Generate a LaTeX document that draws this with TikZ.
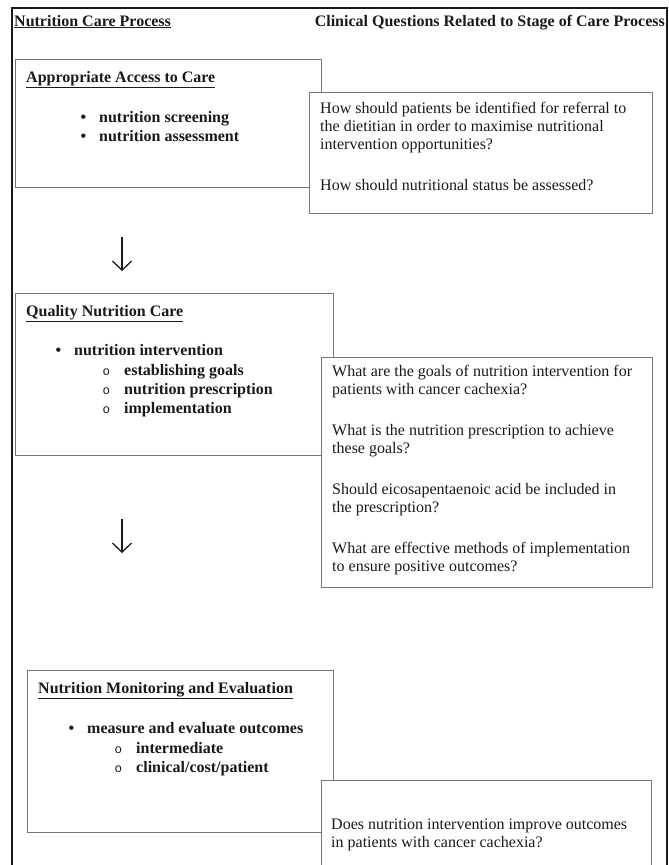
\documentclass[tikz,border=0pt]{standalone}
\usepackage{fontspec}
\setmainfont{Liberation Serif}
\newfontfamily\ringfont{Liberation Mono}
\usepackage{xcolor}
\usepackage{tikz}
\usetikzlibrary{arrows.meta}

\definecolor{boxgray}{HTML}{777777}
\definecolor{inkblack}{HTML}{1A1A1A}

\newcommand{\mainbul}{\llap{\textbullet\hspace{13pt}}}
\newcommand{\subring}{\llap{{\mdseries\fontsize{12.5}{12}\ringfont o}\hspace{14pt}}}
\newcommand{\qgap}{\\[23pt]}

\tikzset{
	stagebox/.style={draw=boxgray, line width=1.2pt, fill=white, anchor=north west, inner sep=0pt},
	linetext/.style={anchor=base west, inner sep=0pt, text=inkblack, font=\fontsize{16}{18}\selectfont},
	boldtext/.style={linetext, font=\fontsize{16}{19}\selectfont\bfseries},
}

\begin{document}
\begin{tikzpicture}[x=1pt,y=-1pt]
		\useasboundingbox (0,0) rectangle (669,865);
		% outer frame
		\draw[line width=1.6pt, inkblack] (12,8) rectangle (667,900);
		% column headings
		\node[boldtext] (careh) at (14,26) {\underline{Nutrition Care Process}};
		\node[boldtext, anchor=base east] (questh) at (665,26) {Clinical Questions Related to Stage of Care Process};
		%
		% stage boxes and question boxes
		\node[stagebox, minimum width=306pt, minimum height=128pt] (access) at (15,59) {};
		\node[stagebox, minimum width=343pt, minimum height=121pt] (accessq) at (309,92) {};
		\node[stagebox, minimum width=318pt, minimum height=162pt] (quality) at (15,293) {};
		\node[stagebox, minimum width=331pt, minimum height=230pt] (qualityq) at (321,357) {};
		\node[stagebox, minimum width=306pt, minimum height=162pt] (monitor) at (27,670) {};
		\node[stagebox, minimum width=330pt, minimum height=130pt] (monitorq) at (321,780) {};
		%
		% appropriate access to care
		\node[boldtext] (accesst) at (26,82) {\underline{Appropriate Access to Care}};
		\node[boldtext] (screen) at (99,122) {\mainbul nutrition screening};
		\node[boldtext] (assess) at (99,141) {\mainbul nutrition assessment};
		\node[linetext] (accessqt) at (320,113) {\parbox[t]{330pt}{\raggedright
			How should patients be identified for referral to\\
			the dietitian in order to maximise nutritional\\
			intervention opportunities?\qgap
			How should nutritional status be assessed?}};
		%
		% quality nutrition care
		\node[boldtext] (qualityt) at (26,316) {\underline{Quality Nutrition Care}};
		\node[boldtext] (interv) at (74,355) {\mainbul nutrition intervention};
		\node[boldtext] (goals) at (124,375) {\subring establishing goals};
		\node[boldtext] (prescr) at (124,394) {\subring nutrition prescription};
		\node[boldtext] (implem) at (124,413) {\subring implementation};
		\node[linetext] (qualityqt) at (332,376) {\parbox[t]{320pt}{\raggedright
			What are the goals of nutrition intervention for\\
			patients with cancer cachexia?\qgap
			What is the nutrition prescription to achieve\\
			these goals?\qgap
			Should eicosapentaenoic acid be included in\\
			the prescription?\qgap
			What are effective methods of implementation\\
			to ensure positive outcomes?}};
		%
		% nutrition monitoring and evaluation
		\node[boldtext] (monitort) at (38,693) {\underline{Nutrition Monitoring and Evaluation}};
		\node[boldtext] (measure) at (87,733) {\mainbul measure and evaluate outcomes};
		\node[boldtext] (interm) at (136,753) {\subring intermediate};
		\node[boldtext] (clinic) at (136,772) {\subring clinical/cost/patient};
		\node[linetext] (monitorqt) at (331,829) {\parbox[t]{320pt}{\raggedright
			Does nutrition intervention improve outcomes\\
			in patients with cancer cachexia?}};
		%
		% arrows between stages
		\coordinate (arrAtop) at (122,237);
		\coordinate (arrAtip) at (122,271);
		\coordinate (arrBtop) at (122,519);
		\coordinate (arrBtip) at (122,553);
		\path[->,>={Straight Barb[length=9pt,width=19pt]},line width=1.3pt,inkblack]
		(arrAtop) edge (arrAtip)
		(arrBtop) edge (arrBtip);
	\end{tikzpicture}
\end{document}
